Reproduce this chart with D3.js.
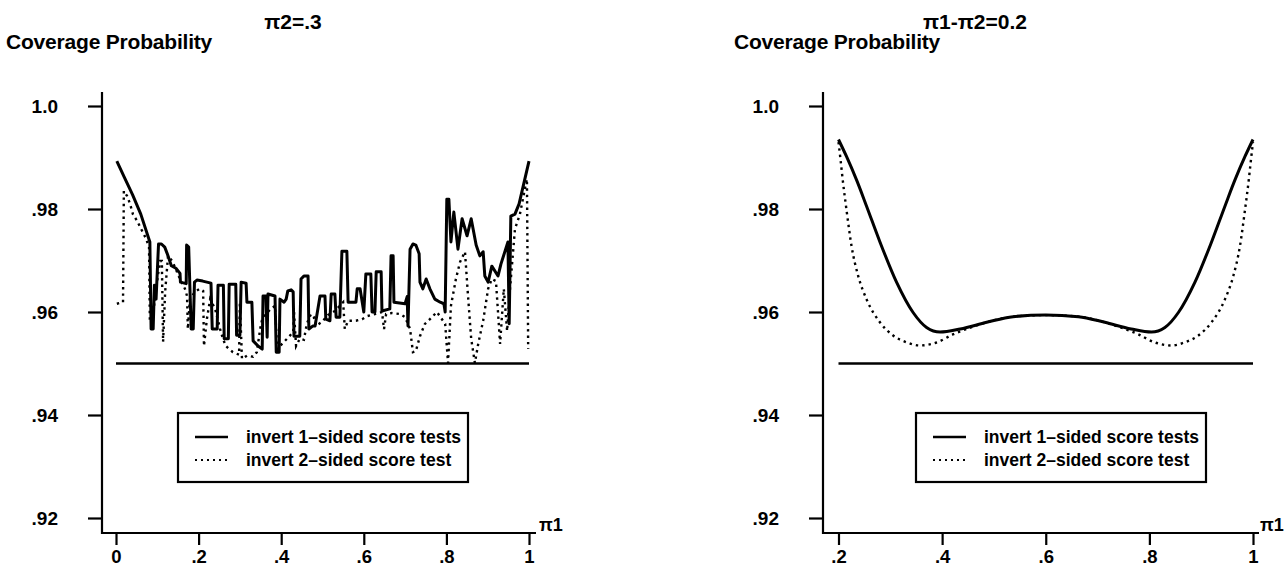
<!DOCTYPE html>
<html><head><meta charset="utf-8">
<script src="https://cdn.jsdelivr.net/npm/d3@7"></script>
<style>
body{margin:0;background:#fff}
svg{display:block}
text{font-family:"Liberation Sans",Arial,Helvetica,sans-serif;font-weight:bold;fill:#000}
</style></head>
<body><svg id="chart" width="1284" height="569"></svg>
<script>
// ---------- data ----------
const titles = ["\u03c02=.3", "\u03c01-\u03c02=0.2"];
const yLabel = "Coverage Probability";
const xLabel = "\u03c01";
const yTicks = [0.92, 0.94, 0.96, 0.98, 1.0];
const yTickLabels = [".92", ".94", ".96", ".98", "1.0"];
const leftXTicks = [0, 0.2, 0.4, 0.6, 0.8, 1];
const leftXTickLabels = ["0", ".2", ".4", ".6", ".8", "1"];
const rightXTicks = [0.2, 0.4, 0.6, 0.8, 1];
const rightXTickLabels = [".2", ".4", ".6", ".8", "1"];
const nominal = 0.95;
const legendLabels = ["invert 1\u2013sided score tests", "invert 2\u2013sided score test"];

// left panel: pi2 = .3, coverage vs pi1
const leftSolid = [
[0.002,0.9893],[0.02,0.9862],[0.04,0.9828],[0.06,0.9790],[0.082,0.9736],
[0.085,0.9567],[0.090,0.9567],[0.093,0.9652],[0.097,0.9625],[0.103,0.9732],[0.110,0.9732],
[0.118,0.9726],[0.126,0.9709],[0.134,0.9690],[0.145,0.9685],[0.155,0.9675],[0.156,0.9658],
[0.170,0.9655],[0.171,0.9730],[0.176,0.9726],[0.182,0.9567],[0.187,0.9567],[0.190,0.9658],
[0.196,0.9662],[0.210,0.9660],[0.230,0.9656],[0.233,0.9567],[0.245,0.9567],[0.247,0.9652],
[0.260,0.9652],[0.262,0.9548],[0.272,0.9548],[0.274,0.9654],[0.290,0.9654],[0.292,0.9555],
[0.300,0.9555],[0.303,0.9658],[0.315,0.9656],[0.317,0.9619],[0.329,0.9619],[0.332,0.9544],
[0.344,0.9534],[0.354,0.9528],[0.356,0.9631],[0.363,0.9631],[0.366,0.9551],[0.368,0.9635],
[0.385,0.9631],[0.388,0.9522],[0.395,0.9522],[0.397,0.9625],[0.407,0.9619],[0.412,0.9625],
[0.416,0.9641],[0.424,0.9643],[0.429,0.9639],[0.431,0.9553],[0.445,0.9553],[0.448,0.9664],
[0.455,0.9670],[0.465,0.9670],[0.467,0.9567],[0.477,0.9573],[0.482,0.9573],[0.494,0.9631],
[0.506,0.9631],[0.508,0.9586],[0.518,0.9583],[0.521,0.9635],[0.530,0.9635],[0.533,0.9590],
[0.542,0.9590],[0.547,0.9718],[0.559,0.9718],[0.562,0.9619],[0.581,0.9619],[0.584,0.9645],
[0.591,0.9645],[0.600,0.9600],[0.605,0.9674],[0.617,0.9674],[0.620,0.9600],[0.627,0.9600],
[0.630,0.9678],[0.642,0.9678],[0.644,0.9602],[0.663,0.9606],[0.666,0.9709],[0.671,0.9709],
[0.673,0.9619],[0.700,0.9616],[0.705,0.9630],[0.707,0.9573],[0.712,0.9722],[0.719,0.9732],
[0.726,0.9730],[0.734,0.9713],[0.736,0.9658],[0.743,0.9645],[0.751,0.9664],[0.760,0.9645],
[0.772,0.9625],[0.785,0.9619],[0.794,0.9616],[0.797,0.9600],[0.801,0.9819],[0.806,0.9819],
[0.811,0.9736],[0.818,0.9794],[0.828,0.9722],[0.838,0.9781],[0.850,0.9748],[0.860,0.9781],
[0.872,0.9730],[0.881,0.9709],[0.889,0.9717],[0.893,0.9670],[0.901,0.9658],[0.910,0.9689],
[0.925,0.9670],[0.932,0.9693],[0.949,0.9736],[0.952,0.9577],[0.956,0.9786],[0.966,0.9790],
[0.976,0.9810],[1.0,0.9893]
];
const leftDotted = [
[0.002,0.9616],[0.017,0.9619],[0.019,0.9835],[0.027,0.9825],[0.034,0.9810],[0.041,0.9790],
[0.051,0.9777],[0.061,0.9761],[0.073,0.9742],[0.080,0.9726],[0.082,0.9581],[0.087,0.9577],
[0.094,0.9625],[0.102,0.9674],[0.107,0.9699],[0.111,0.9699],[0.114,0.9542],[0.119,0.9639],
[0.126,0.9709],[0.136,0.9699],[0.145,0.9683],[0.155,0.9664],[0.167,0.9645],[0.172,0.9631],
[0.174,0.9567],[0.179,0.9625],[0.191,0.9639],[0.203,0.9645],[0.211,0.9641],[0.213,0.9534],
[0.220,0.9586],[0.228,0.9625],[0.240,0.9606],[0.252,0.9567],[0.259,0.9548],[0.266,0.9534],
[0.274,0.9528],[0.283,0.9522],[0.298,0.9517],[0.300,0.9619],[0.305,0.9509],[0.317,0.9515],
[0.332,0.9513],[0.341,0.9522],[0.349,0.9567],[0.354,0.9586],[0.363,0.9596],[0.375,0.9606],
[0.385,0.9612],[0.390,0.9528],[0.397,0.9534],[0.414,0.9548],[0.429,0.9561],[0.431,0.9600],
[0.436,0.9534],[0.445,0.9548],[0.455,0.9546],[0.462,0.9577],[0.472,0.9596],[0.479,0.9590],
[0.484,0.9573],[0.499,0.9581],[0.513,0.9594],[0.530,0.9602],[0.550,0.9619],[0.554,0.9567],
[0.562,0.9583],[0.581,0.9583],[0.596,0.9586],[0.608,0.9592],[0.627,0.9596],[0.644,0.9600],
[0.649,0.9567],[0.654,0.9596],[0.668,0.9598],[0.688,0.9596],[0.700,0.9590],[0.712,0.9567],
[0.719,0.9522],[0.726,0.9524],[0.736,0.9553],[0.748,0.9577],[0.760,0.9586],[0.777,0.9600],
[0.797,0.9577],[0.804,0.9501],[0.811,0.9612],[0.823,0.9664],[0.833,0.9697],[0.845,0.9717],
[0.852,0.9635],[0.860,0.9548],[0.869,0.9501],[0.877,0.9538],[0.889,0.9583],[0.901,0.9645],
[0.910,0.9664],[0.920,0.9660],[0.930,0.9538],[0.939,0.9645],[0.947,0.9563],[0.954,0.9645],
[0.966,0.9761],[0.978,0.9790],[0.990,0.9839],[0.995,0.9858],[0.998,0.9528]
];

// right panel: pi1 - pi2 = 0.2
const rightSolid = [
[0.2,0.9935],[0.215,0.9903],[0.235,0.9856],[0.254,0.9806],[0.28,0.9736],[0.312,0.9658],
[0.344,0.9599],[0.37,0.9570],[0.396,0.9561],[0.435,0.9567],[0.486,0.9580],[0.537,0.9591],
[0.6,0.9594],[0.663,0.9591],[0.714,0.9580],[0.765,0.9567],[0.804,0.9561],[0.83,0.9570],
[0.856,0.9599],[0.888,0.9658],[0.92,0.9736],[0.946,0.9806],[0.965,0.9856],[0.985,0.9903],
[1.0,0.9935]
];
const rightDotted = [
[0.2,0.9930],[0.204,0.9895],[0.208,0.9858],[0.216,0.9794],[0.225,0.9729],[0.238,0.9670],
[0.254,0.9625],[0.28,0.9580],[0.306,0.9554],[0.332,0.9541],[0.357,0.9535],[0.39,0.9541],
[0.422,0.9557],[0.45,0.9568],[0.486,0.9580],[0.537,0.9591],[0.6,0.9594],[0.663,0.9591],
[0.714,0.9580],[0.75,0.9568],[0.778,0.9557],[0.81,0.9541],[0.843,0.9535],[0.868,0.9541],
[0.894,0.9554],[0.92,0.9580],[0.946,0.9625],[0.962,0.9670],[0.975,0.9729],[0.984,0.9794],
[0.992,0.9858],[0.996,0.9895],[1.0,0.9930]
];

// ---------- layout ----------
const svg = d3.select("#chart");
const panels = [
  {title: titles[0], titleX: 293, ylabX: 6, axisX: 102, xRange: [116, 529], xDomain: [0, 1],
   xTicks: leftXTicks, xTickLabels: leftXTickLabels, axisEnd: 536, piX: 539,
   solid: leftSolid, dotted: leftDotted, curve: d3.curveLinear,
   legend: {x: 178, y: 413, w: 290, h: 69}},
  {title: titles[1], titleX: 975, ylabX: 734, axisX: 823, xRange: [838.5, 1253], xDomain: [0.2, 1],
   xTicks: rightXTicks, xTickLabels: rightXTickLabels, axisEnd: 1259, piX: 1260,
   solid: rightSolid, dotted: rightDotted, curve: d3.curveMonotoneX,
   legend: {x: 916, y: 413, w: 290, h: 69}}
];
const yTop = 92, xAxisY = 533;

panels.forEach(p => {
  const g = svg.append("g");
  const x = d3.scaleLinear().domain(p.xDomain).range(p.xRange);
  const y = d3.scaleLinear().domain([0.92, 1.0]).range([518, 106]);

  g.append("text").attr("x", p.titleX).attr("y", 29).attr("text-anchor", "middle")
    .style("font-size", "21px").text(p.title);
  g.append("text").attr("x", p.ylabX).attr("y", 49).style("font-size", "21px")
    .style("letter-spacing", "-0.2px").text(yLabel);

  // y axis
  const ya = g.append("g").attr("transform", `translate(${p.axisX},0)`)
    .call(d3.axisLeft(y).tickValues(yTicks).tickFormat((d, i) => yTickLabels[i])
      .tickSize(14).tickPadding(30));
  ya.select(".domain").remove();
  ya.selectAll("line").attr("stroke", "#000").attr("stroke-width", 2.2);
  ya.selectAll("text").style("font-size", "19px").attr("fill", "#000");
  ya.attr("font-family", null).attr("font-size", null);
  g.append("line").attr("x1", p.axisX).attr("x2", p.axisX).attr("y1", yTop).attr("y2", xAxisY + 1)
    .attr("stroke", "#000").attr("stroke-width", 2.2);

  // x axis
  const xa = g.append("g").attr("transform", `translate(0,${xAxisY})`)
    .call(d3.axisBottom(x).tickValues(p.xTicks).tickFormat((d, i) => p.xTickLabels[i])
      .tickSize(12).tickPadding(5));
  xa.select(".domain").remove();
  xa.selectAll("line").attr("stroke", "#000").attr("stroke-width", 2.2);
  xa.selectAll("text").style("font-size", "18.5px").attr("fill", "#000");
  xa.attr("font-family", null).attr("font-size", null);
  g.append("line").attr("x1", p.axisX).attr("x2", p.axisEnd).attr("y1", xAxisY).attr("y2", xAxisY)
    .attr("stroke", "#000").attr("stroke-width", 2.2);
  g.append("text").attr("x", p.piX).attr("y", 531).style("font-size", "18px").text(xLabel);

  // nominal reference line
  g.append("line").attr("x1", x(p.xDomain[0])).attr("x2", x(p.xDomain[1]))
    .attr("y1", y(nominal)).attr("y2", y(nominal))
    .attr("stroke", "#000").attr("stroke-width", 2.4);

  const line = d3.line().x(d => x(d[0])).y(d => y(d[1])).curve(p.curve);
  g.append("path").datum(p.dotted).attr("d", line).attr("fill", "none")
    .attr("stroke", "#000").attr("stroke-width", 2.4).attr("stroke-dasharray", "2.4,4");
  g.append("path").datum(p.solid).attr("d", line).attr("fill", "none")
    .attr("stroke", "#000").attr("stroke-width", 3).attr("stroke-linejoin", "round");

  // legend
  const L = p.legend;
  const lg = g.append("g").attr("transform", `translate(${L.x},${L.y})`);
  lg.append("rect").attr("width", L.w).attr("height", L.h).attr("fill", "#fff")
    .attr("stroke", "#000").attr("stroke-width", 2.2);
  const rowY = [24, 47];
  lg.append("line").attr("x1", 17).attr("x2", 50).attr("y1", rowY[0]).attr("y2", rowY[0])
    .attr("stroke", "#000").attr("stroke-width", 2.6);
  lg.append("line").attr("x1", 17).attr("x2", 50).attr("y1", rowY[1]).attr("y2", rowY[1])
    .attr("stroke", "#000").attr("stroke-width", 2).attr("stroke-dasharray", "2,4");
  legendLabels.forEach((t, i) => {
    lg.append("text").attr("x", 68).attr("y", rowY[i] + 6).style("font-size", "17.5px")
      .text(t);
  });
});
</script>
</body></html>
